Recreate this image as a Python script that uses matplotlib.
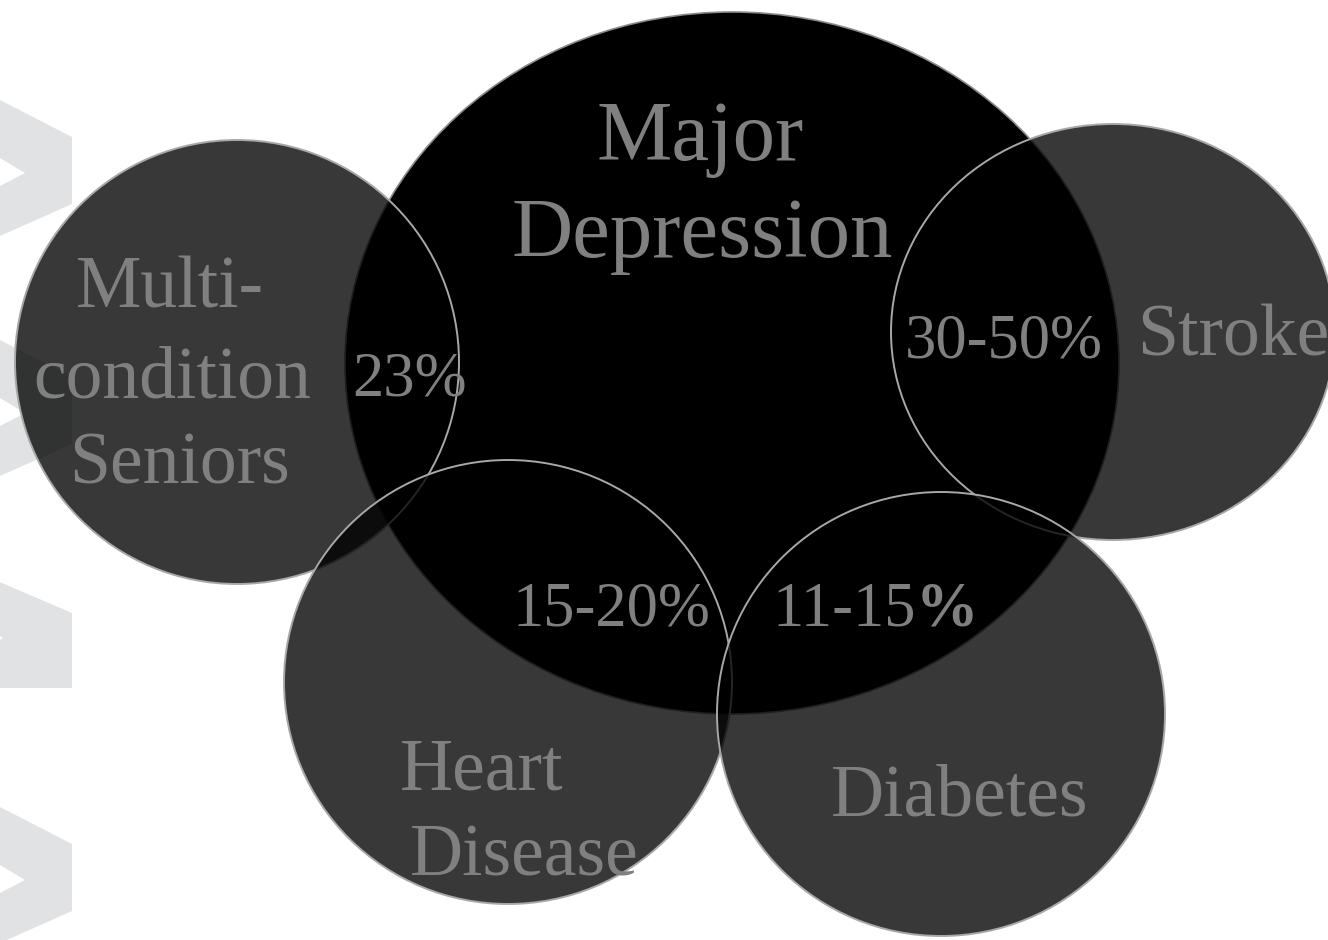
import matplotlib.pyplot as plt
from matplotlib.patches import Ellipse, Polygon

# labels
main_label = ["Major", "Depression"]
group_labels = ["Multi-\ncondition\nSeniors", "Stroke", "Heart\nDisease", "Diabetes"]
overlap_pct = ["23%", "30-50%", "15-20%", "11-15%"]

# layout (pixel space, y down)
W, H = 1328, 940
main_shape = (732, 363, 774, 702)
group_shapes = [(237, 362, 444, 444), (1113, 332, 444, 416),
                (508, 682, 448, 444), (941, 714, 448, 444)]
chevron_tops = [100, 340, 580, 807]

fig = plt.figure(figsize=(W / 100, H / 100), dpi=100)
ax = fig.add_axes([0, 0, 1, 1])
ax.set_xlim(0, W)
ax.set_ylim(H, 0)
ax.axis("off")

# background chevrons on left edge
for i, t in enumerate(chevron_tops):
    if i == 2:
        # this one is cut flat at the bottom
        pts = [(-5, t), (72, t + 33), (72, 688), (-5, 688), (-5, t + 63),
               (3, t + 58), (-5, t + 53)]
    else:
        pts = [(-60, t - 30), (0, t), (72, t + 37), (72, t + 104), (0, t + 136),
               (-60, t + 166), (0, t + 86), (25, t + 73), (0, t + 58), (-60, t + 28)]
    ax.add_patch(Polygon(pts, closed=True, fc="#e1e2e4", ec="none", zorder=1))

cx, cy, w, h = main_shape
ax.add_patch(Ellipse((cx, cy), w, h, fc="black", ec="#8a8a8a", lw=1.2, zorder=2))

for (cx, cy, w, h) in group_shapes:
    ax.add_patch(Ellipse((cx, cy), w, h, fc=(0, 0, 0, 0.78), ec="#a8a8a8", lw=1.4, zorder=3))

font = "Liberation Serif"
tc = "#808080"

def txt(x, y, s, size, ha="center", weight="normal"):
    ax.text(x, y, s, fontsize=size, family=font, color=tc, ha=ha, va="baseline",
            fontweight=weight, zorder=5)

txt(700, 160, main_label[0], 61)
txt(702, 257, main_label[1], 61)

multi = group_labels[0].split("\n")
txt(170, 308, multi[0], 53)
txt(172, 397, multi[1], 53)
txt(180, 483, multi[2], 53)
txt(1137, 355, group_labels[1], 53, ha="left")
heart = group_labels[2].split("\n")
txt(400, 790, heart[0], 53, ha="left")
txt(410, 875, heart[1], 53, ha="left")
txt(960, 815, group_labels[3], 53)

txt(410, 395, overlap_pct[0], 45)
txt(1004, 358, overlap_pct[1], 45)
txt(611, 626, overlap_pct[2], 45)
# last one has a bold percent sign
txt(916, 625, overlap_pct[3][:-1], 45, ha="right")
txt(916, 625, overlap_pct[3][-1], 45, ha="left", weight="bold")

fig.savefig("out.png", dpi=100, facecolor="white")
